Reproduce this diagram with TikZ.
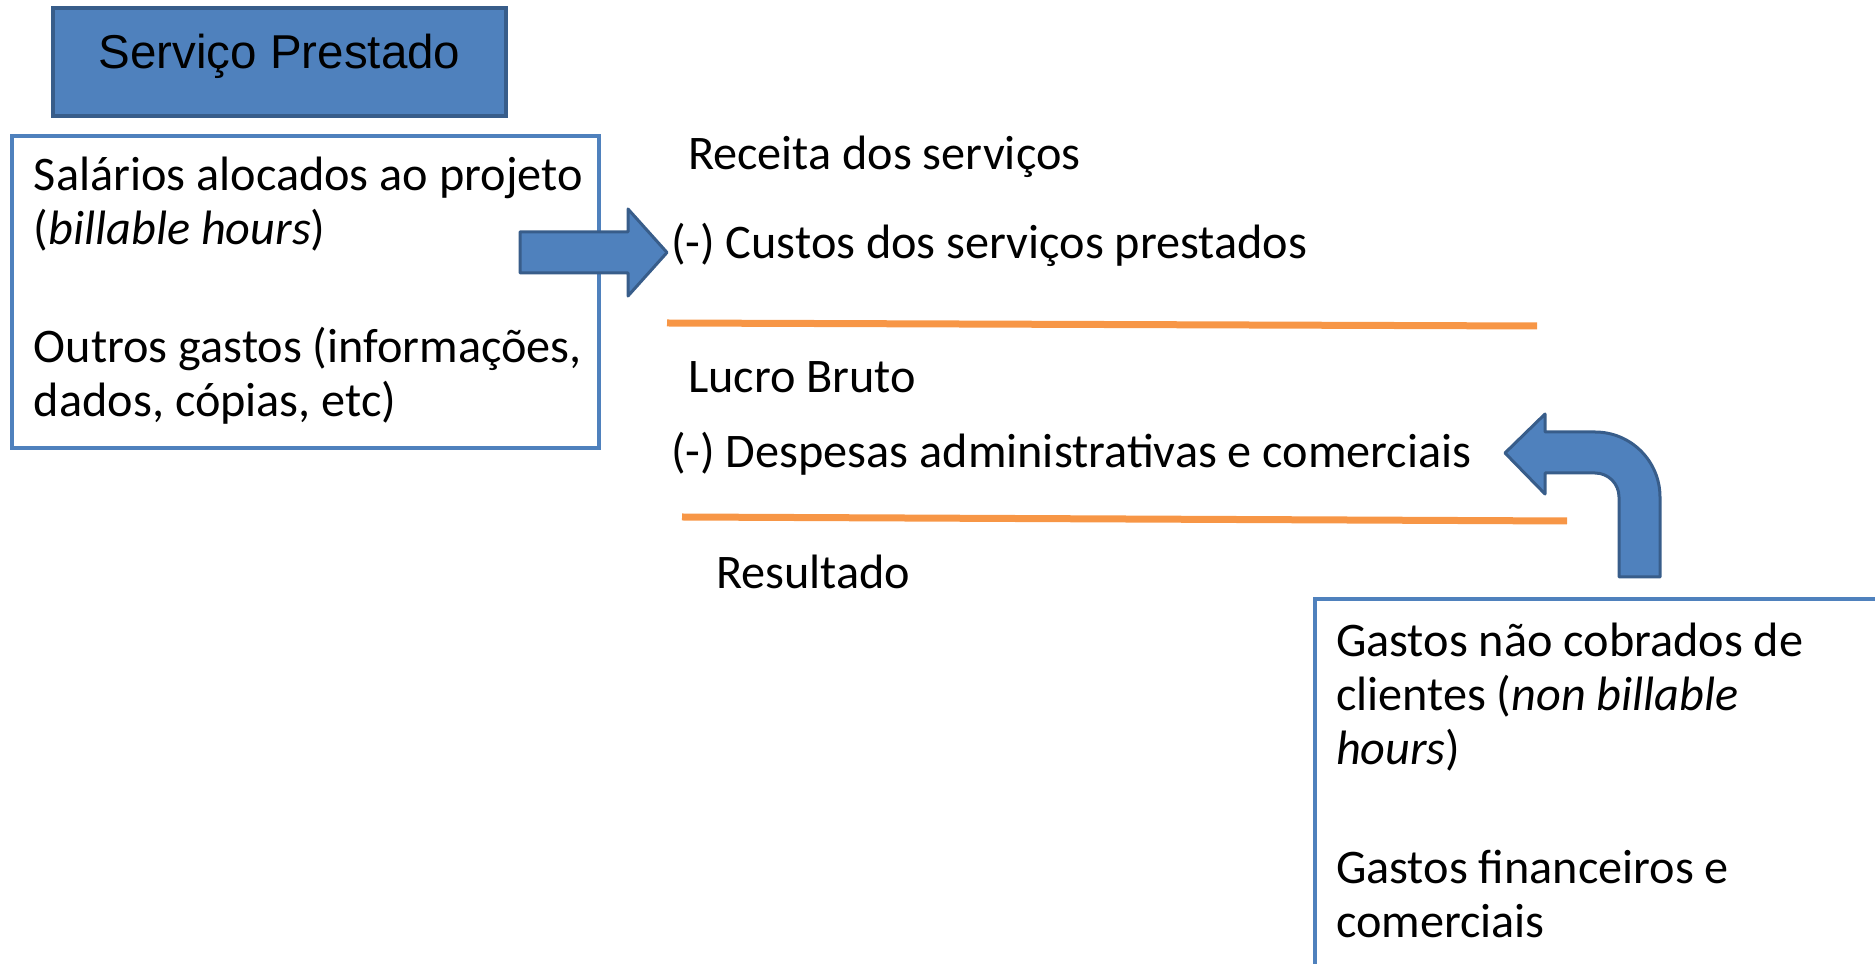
\documentclass[tikz,border=0pt]{standalone}
\usepackage{fontspec}
\setmainfont{Carlito}
\newfontfamily\arialfont{Liberation Sans}
\definecolor{blockblue}{HTML}{4F81BD}
\definecolor{blockedge}{HTML}{385D8A}
\definecolor{lineorange}{HTML}{F79646}
\tikzset{
  titlebox/.style={draw=blockedge, fill=blockblue, line width=1.3pt, inner sep=0pt},
  textbox/.style={draw=blockblue, line width=1.6pt, inner sep=0pt, fill=white},
  lbl/.style={anchor=base west, inner sep=0pt, outer sep=0pt, align=left,
    font=\fontsize{19.3}{21.6}\selectfont},
  blockarrow/.style={draw=blockedge, fill=blockblue, line width=1.2pt, line join=round},
  orangeline/.style={draw=lineorange, line width=2.8pt}
}
\begin{document}
\begin{tikzpicture}[x=0.4pt,y=-0.4pt]
\useasboundingbox (0,0) rectangle (1875,964);
\clip (0,0) rectangle (1875,964);

% title
\node[titlebox, minimum width=181.2pt, minimum height=43.2pt] (title) at (279.5,62) {};
\node[anchor=base, inner sep=0pt, font=\arialfont\fontsize{19}{22}\selectfont] (titletext) at (279.5,69) {Serviço Prestado};

% left box
\node[textbox, minimum width=234.8pt, minimum height=124.8pt] (leftbox) at (305.5,292) {};
\node[lbl] (l1) at (34,245) {Salários alocados ao projeto\\(\textit{billable hours})};
\node[lbl] (l2) at (34,417) {Outros gastos (informações,\\dados, cópias, etc)};

% right box
\node[textbox, minimum width=240pt, minimum height=160pt] (rightbox) at (1615,799) {};
\node[lbl] (r1) at (1336,765) {Gastos não cobrados de\\clientes (\textit{non billable}\\\textit{hours})};
\node[lbl] (r2) at (1336,938) {Gastos financeiros e\\comerciais};

% statement
\node[lbl] (receita) at (688,170) {Receita dos serviços};
\node[lbl] (custos) at (671,259) {(-) Custos dos serviços prestados};
\node[lbl] (lucro) at (688,393) {Lucro Bruto};
\node[lbl] (despesas) at (671,468) {(-) Despesas administrativas e comerciais};
\node[lbl] (resultado) at (716,589) {Resultado};

% orange rules
\coordinate (o1a) at (667,323);
\coordinate (o1b) at (1537,326);
\coordinate (o2a) at (682,517);
\coordinate (o2b) at (1567,521);
\draw[orangeline] (o1a) -- (o1b);
\draw[orangeline] (o2a) -- (o2b);

% block arrow right
\draw[blockarrow] (520,232) -- (628,232) -- (628,209) -- (667,252.5) -- (628,296) -- (628,273) -- (520,273) -- cycle;

% bent arrow
\draw[blockarrow] (1619,577) -- (1619,497)
  .. controls (1619,483.7) and (1608.3,473) .. (1595,473)
  -- (1545,473) -- (1545,494) -- (1505,453) -- (1545,414) -- (1545,432)
  -- (1595,432)
  .. controls (1630.9,432) and (1660,461.1) .. (1660,497)
  -- (1660,577) -- cycle;
\end{tikzpicture}
\end{document}
